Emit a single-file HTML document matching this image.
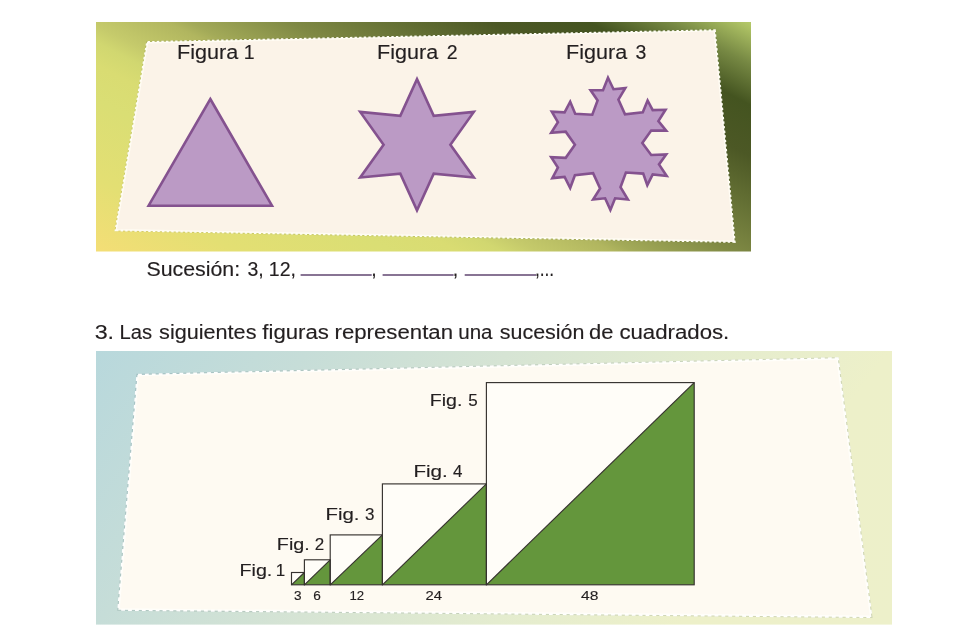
<!DOCTYPE html>
<html><head><meta charset="utf-8"><style>
html,body{margin:0;padding:0;background:#fff;}
body{width:972px;height:630px;overflow:hidden;}
svg{display:block;font-family:"Liberation Sans",sans-serif;will-change:transform;}
</style></head><body>
<svg width="972" height="630" viewBox="0 0 972 630">
<defs><linearGradient id="bg1" gradientUnits="userSpaceOnUse" x1="-82.44" y1="160.02" x2="148.58" y2="-288.39"><stop offset="0" stop-color="#f4de76"/><stop offset="0.13" stop-color="#e3df73"/><stop offset="0.27" stop-color="#dade74"/><stop offset="0.33" stop-color="#d9dc72"/><stop offset="0.37" stop-color="#d1d770"/><stop offset="0.4" stop-color="#c5ca6b"/><stop offset="0.47" stop-color="#b1b65f"/><stop offset="0.49" stop-color="#a3aa58"/><stop offset="0.58" stop-color="#7f8944"/><stop offset="0.675" stop-color="#647034"/><stop offset="0.763" stop-color="#4c5825"/><stop offset="0.853" stop-color="#445420"/><stop offset="0.925" stop-color="#768843"/><stop offset="0.985" stop-color="#aabe62"/><stop offset="1" stop-color="#b6ca6a"/></linearGradient><linearGradient id="bg2" gradientUnits="userSpaceOnUse" x1="96" y1="351" x2="727.5" y2="837.3"><stop offset="0" stop-color="#b8d8dc"/><stop offset="0.21" stop-color="#c6ddd8"/><stop offset="0.41" stop-color="#d6e4d4"/><stop offset="0.605" stop-color="#e4eccf"/><stop offset="0.79" stop-color="#edf0c9"/><stop offset="1" stop-color="#edf0ca"/></linearGradient></defs>
<rect x="96" y="22" width="655" height="229.5" fill="url(#bg1)"/>
<polygon points="147.6,42.7 714.3,30.9 734,241.3 116.3,229.7" fill="none" stroke="rgba(30,40,0,0.11)" stroke-width="3.2"/>
<polygon points="147.6,42.7 714.3,30.9 734,241.3 116.3,229.7" fill="none" stroke="#fffef4" stroke-width="3.2" stroke-dasharray="2.4 2.2"/>
<polygon points="147.6,42.7 714.3,30.9 734,241.3 116.3,229.7" fill="#fbf3e8" stroke="#fffcf4" stroke-width="1.4"/>
<text x="177.1" y="58.9" font-size="19.5" fill="#231f20" stroke="#231f20" stroke-width="0.15" textLength="61.14" lengthAdjust="spacingAndGlyphs">Figura</text>
<text x="243.69" y="58.9" font-size="19.5" fill="#231f20" stroke="#231f20" stroke-width="0.15">1</text>
<text x="377.13" y="59" font-size="19.5" fill="#231f20" stroke="#231f20" stroke-width="0.15" textLength="61.02" lengthAdjust="spacingAndGlyphs">Figura</text>
<text x="446.71" y="59" font-size="19.5" fill="#231f20" stroke="#231f20" stroke-width="0.15">2</text>
<text x="566.13" y="59" font-size="19.5" fill="#231f20" stroke="#231f20" stroke-width="0.15" textLength="61.02" lengthAdjust="spacingAndGlyphs">Figura</text>
<text x="635.56" y="59" font-size="19.5" fill="#231f20" stroke="#231f20" stroke-width="0.15">3</text>
<polygon points="210.3,99 272,205.7 148.6,205.7" fill="#bb9ac5" stroke="#84528f" stroke-width="2.6" stroke-linejoin="miter" stroke-miterlimit="10"/>
<polygon points="417,79.1 433.7,115.77 473.81,111.9 450.4,144.7 473.81,177.5 433.7,173.63 417,210.3 400.3,173.63 360.19,177.5 383.6,144.7 360.19,111.9 400.3,115.77" fill="#bb9ac5" stroke="#84528f" stroke-width="2.6" stroke-linejoin="miter" stroke-miterlimit="10"/>
<polygon points="608,77.8 613.5,89.2 625.3,88.1 618.4,99.6 625,114.3 642.8,112.3 647.6,100.5 652.7,110.1 665.5,109.8 658.4,121.1 666.2,130.6 651.2,130.6 642.3,143.1 651.2,155 666.2,154.4 659,164.4 666.7,176 652.7,174.4 647.3,185.1 643.2,173.6 625.9,172.5 620.5,187.2 627.9,199.5 615.1,198.3 610.4,209.9 605.1,198.3 593.1,199.5 600.1,188.4 593.1,173.1 574.9,175.2 570.2,188 564.6,176.9 552.3,178.1 557.9,167.6 551.2,157.2 565.7,157.8 574.9,144.7 565.7,131.7 551.2,132.8 557.9,122.2 551.8,111.6 564.6,112.3 570.2,101.7 575.2,113.7 592.3,114.7 597.6,100.5 590.6,90.3 603,90.3" fill="#bb9ac5" stroke="#84528f" stroke-width="2.6" stroke-linejoin="miter" stroke-miterlimit="10"/>
<text x="146.47" y="275.9" font-size="19.5" fill="#231f20" stroke="#231f20" stroke-width="0.15" textLength="93.66" lengthAdjust="spacingAndGlyphs">Sucesión:</text>
<text x="247.49" y="275.9" font-size="19.5" fill="#231f20" stroke="#231f20" stroke-width="0.15">3,</text>
<text x="268.85" y="275.9" font-size="19.5" fill="#231f20" stroke="#231f20" stroke-width="0.15">12,</text>
<line x1="300.6" y1="275" x2="371.7" y2="275" stroke="#604670" stroke-width="1.7"/>
<line x1="382.6" y1="275" x2="453.6" y2="275" stroke="#604670" stroke-width="1.7"/>
<line x1="464.7" y1="275" x2="536" y2="275" stroke="#604670" stroke-width="1.7"/>
<text x="371.13" y="275.9" font-size="19.5" fill="#231f20" stroke="#231f20" stroke-width="0.15">,</text>
<text x="452.82" y="275.9" font-size="19.5" fill="#231f20" stroke="#231f20" stroke-width="0.15">,</text>
<text x="534.89" y="275.9" font-size="19.5" fill="#231f20" stroke="#231f20" stroke-width="0.15" textLength="19.25" lengthAdjust="spacingAndGlyphs">,...</text>
<text x="94.67" y="338.9" font-size="19.5" fill="#231f20" stroke="#231f20" stroke-width="0.15" textLength="19.45" lengthAdjust="spacingAndGlyphs">3.</text>
<text x="119.47" y="338.9" font-size="19.5" fill="#231f20" stroke="#231f20" stroke-width="0.15" textLength="32.53" lengthAdjust="spacingAndGlyphs">Las</text>
<text x="159.14" y="338.9" font-size="19.5" fill="#231f20" stroke="#231f20" stroke-width="0.15" textLength="97.33" lengthAdjust="spacingAndGlyphs">siguientes</text>
<text x="262.32" y="338.9" font-size="19.5" fill="#231f20" stroke="#231f20" stroke-width="0.15" textLength="66.48" lengthAdjust="spacingAndGlyphs">figuras</text>
<text x="334.54" y="338.9" font-size="19.5" fill="#231f20" stroke="#231f20" stroke-width="0.15" textLength="118.51" lengthAdjust="spacingAndGlyphs">representan</text>
<text x="458.24" y="338.9" font-size="19.5" fill="#231f20" stroke="#231f20" stroke-width="0.15" textLength="34.32" lengthAdjust="spacingAndGlyphs">una</text>
<text x="499.79" y="338.9" font-size="19.5" fill="#231f20" stroke="#231f20" stroke-width="0.15" textLength="84.67" lengthAdjust="spacingAndGlyphs">sucesión</text>
<text x="588.96" y="338.9" font-size="19.5" fill="#231f20" stroke="#231f20" stroke-width="0.15" textLength="24.43" lengthAdjust="spacingAndGlyphs">de</text>
<text x="619.41" y="338.9" font-size="19.5" fill="#231f20" stroke="#231f20" stroke-width="0.15" textLength="109.87" lengthAdjust="spacingAndGlyphs">cuadrados.</text>
<rect x="96" y="351" width="796" height="273.6" fill="url(#bg2)"/>
<polygon points="138.1,375.6 837.1,359 870.6,616.3 119.1,609" fill="none" stroke="rgba(0,30,40,0.12)" stroke-width="3.6"/>
<polygon points="138.1,375.6 837.1,359 870.6,616.3 119.1,609" fill="none" stroke="#ffffff" stroke-width="3.6" stroke-dasharray="3.8 3.1"/>
<polygon points="138.1,375.6 837.1,359 870.6,616.3 119.1,609" fill="#fefaf2" stroke="#fffefa" stroke-width="1.4"/>
<rect x="291.5" y="572.5" width="12.9" height="12.3" fill="#fffdf8"/><polygon points="291.5,584.8 304.4,572.5 304.4,584.8" fill="#64963c"/><rect x="304.4" y="559.8" width="25.8" height="25" fill="#fffdf8"/><polygon points="304.4,584.8 330.2,559.8 330.2,584.8" fill="#64963c"/><rect x="330.2" y="534.9" width="52.2" height="49.9" fill="#fffdf8"/><polygon points="330.2,584.8 382.4,534.9 382.4,584.8" fill="#64963c"/><rect x="382.4" y="483.9" width="104" height="100.9" fill="#fffdf8"/><polygon points="382.4,584.8 486.4,483.9 486.4,584.8" fill="#64963c"/><rect x="486.4" y="382.6" width="207.8" height="202.2" fill="#fffdf8"/><polygon points="486.4,584.8 694.2,382.6 694.2,584.8" fill="#64963c"/><rect x="291.5" y="572.5" width="12.9" height="12.3" fill="none" stroke="#36322f" stroke-width="1.15"/><line x1="291.5" y1="584.8" x2="304.4" y2="572.5" stroke="#36322f" stroke-width="1.15"/><rect x="304.4" y="559.8" width="25.8" height="25" fill="none" stroke="#36322f" stroke-width="1.15"/><line x1="304.4" y1="584.8" x2="330.2" y2="559.8" stroke="#36322f" stroke-width="1.15"/><rect x="330.2" y="534.9" width="52.2" height="49.9" fill="none" stroke="#36322f" stroke-width="1.15"/><line x1="330.2" y1="584.8" x2="382.4" y2="534.9" stroke="#36322f" stroke-width="1.15"/><rect x="382.4" y="483.9" width="104" height="100.9" fill="none" stroke="#36322f" stroke-width="1.15"/><line x1="382.4" y1="584.8" x2="486.4" y2="483.9" stroke="#36322f" stroke-width="1.15"/><rect x="486.4" y="382.6" width="207.8" height="202.2" fill="none" stroke="#36322f" stroke-width="1.15"/><line x1="486.4" y1="584.8" x2="694.2" y2="382.6" stroke="#36322f" stroke-width="1.15"/>
<text x="239.48" y="575.5" font-size="17" fill="#231f20" stroke="#231f20" stroke-width="0.15" textLength="32.85" lengthAdjust="spacingAndGlyphs">Fig.</text>
<text x="275.85" y="575.5" font-size="17" fill="#231f20" stroke="#231f20" stroke-width="0.15">1</text>
<text x="276.88" y="549.5" font-size="17" fill="#231f20" stroke="#231f20" stroke-width="0.15" textLength="32.87" lengthAdjust="spacingAndGlyphs">Fig.</text>
<text x="314.63" y="549.5" font-size="17" fill="#231f20" stroke="#231f20" stroke-width="0.15">2</text>
<text x="325.55" y="519.5" font-size="17" fill="#231f20" stroke="#231f20" stroke-width="0.15" textLength="33.96" lengthAdjust="spacingAndGlyphs">Fig.</text>
<text x="365" y="519.5" font-size="17" fill="#231f20" stroke="#231f20" stroke-width="0.15">3</text>
<text x="413.42" y="476.9" font-size="17" fill="#231f20" stroke="#231f20" stroke-width="0.15" textLength="34.4" lengthAdjust="spacingAndGlyphs">Fig.</text>
<text x="452.95" y="476.9" font-size="17" fill="#231f20" stroke="#231f20" stroke-width="0.15">4</text>
<text x="429.7" y="405.7" font-size="17" fill="#231f20" stroke="#231f20" stroke-width="0.15" textLength="32.67" lengthAdjust="spacingAndGlyphs">Fig.</text>
<text x="468.32" y="405.7" font-size="17" fill="#231f20" stroke="#231f20" stroke-width="0.15">5</text>
<text x="294.1" y="599.8" font-size="13.6" fill="#231f20" stroke="#231f20" stroke-width="0.15">3</text>
<text x="313.18" y="599.8" font-size="13.6" fill="#231f20" stroke="#231f20" stroke-width="0.15">6</text>
<text x="349.5" y="599.8" font-size="13.2" fill="#231f20" stroke="#231f20" stroke-width="0.15">12</text>
<text x="425.43" y="599.8" font-size="13.6" fill="#231f20" stroke="#231f20" stroke-width="0.15" textLength="16.49" lengthAdjust="spacingAndGlyphs">24</text>
<text x="581.14" y="599.8" font-size="13.6" fill="#231f20" stroke="#231f20" stroke-width="0.15" textLength="17.38" lengthAdjust="spacingAndGlyphs">48</text>
</svg>
</body></html>
